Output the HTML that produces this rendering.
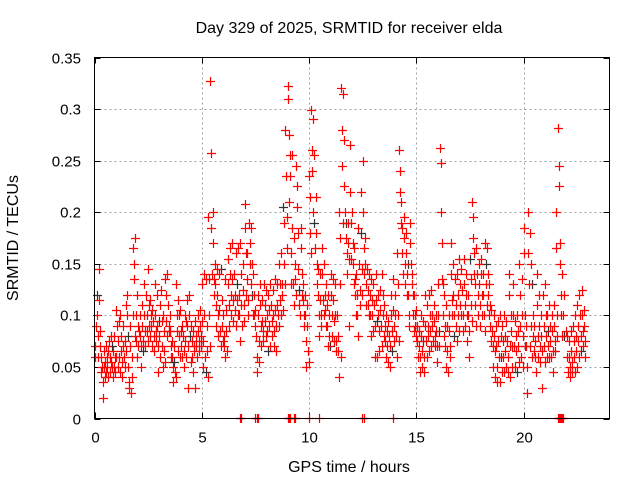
<!DOCTYPE html>
<html><head><meta charset="utf-8"><style>
html,body{margin:0;padding:0;background:#fff}
svg{display:block;font-family:"Liberation Sans",sans-serif}
</style></head><body>
<svg id="chart" width="640" height="480" viewBox="0 0 640 480" xmlns="http://www.w3.org/2000/svg">
<rect width="640" height="480" fill="#fff"/>
<text x="349" y="33" font-size="16" text-anchor="middle" fill="#000">Day 329 of 2025, SRMTID for receiver elda</text>
<text transform="translate(18,238) rotate(-90)" font-size="16" text-anchor="middle" fill="#000">SRMTID / TECUs</text>
<text x="349" y="472" font-size="16" text-anchor="middle" fill="#000">GPS time / hours</text>
<g id="grid"></g>
<g id="ticks"></g>
<g id="marks"></g>
<rect x="94.5" y="57.5" width="515" height="361" fill="none" stroke="#000" stroke-width="1"/>
</svg>
<script>
const xTicks=[0,5,10,15,20];
const yTicks=[0,0.05,0.1,0.15,0.2,0.25,0.3,0.35];
const yTickLabels=["0","0.05","0.1","0.15","0.2","0.25","0.3","0.35"];
const times=[];for(let i=0;i<229;i++)times.push(+(i*0.1).toFixed(1));
const values=[
[.07,.06,.09],[.12,.1,.08,.06],[.145,.115,.085,.07],[.06,.045,.05,.035],[.02,.05,.065,.04],[.055,.045,.07,.06],[.05,.065,.04,.075],[.06,.045,.08,.055],[.05,.07,.04,.065],[.08,.05,.06,.045],
[.105,.06,.09,.05],[.075,.095,.06,.045],[.1,.065,.08,.04],[.055,.07,.09,.06],[.075,.05,.065,.11],[.12,.1,.08,.05],[.035,.03,.07,.09],[.025,.04,.06,.1],[.165,.135,.15,.08],[.175,.1,.075,.06],
[.12,.09,.07,.085],[.1,.08,.07,.05],[.11,.09,.075,.065],[.13,.1,.085,.07],[.12,.1,.085,.075],[.145,.11,.09,.08],[.115,.1,.09,.07],[.105,.095,.08,.065],[.13,.1,.085,.075],[.12,.09,.07,.045],
[.095,.08,.06,.11],[.125,.095,.07,.05],[.1,.085,.065,.055],[.135,.12,.095,.08],[.14,.11,.09,.085],[.1,.085,.07,.06],[.075,.06,.05,.035],[.07,.055,.045,.04],[.13,.1,.085,.065],[.115,.1,.08,.06],
[.105,.085,.07,.06],[.09,.08,.065,.05],[.1,.075,.06,.095],[.115,.09,.07,.03],[.12,.1,.08,.055],[.09,.075,.06,.045],[.085,.07,.065,.03],[.095,.08,.07,.06],[.1,.085,.075,.065],[.105,.09,.08,.07],
[.13,.095,.075,.05],[.14,.1,.06,.045],[.135,.09,.065,.04],[.195,.135,.1,.07],[.327,.257,.185,.14],[.2,.17,.135,.12],[.15,.13,.11,.09],[.145,.12,.1,.08],[.14,.105,.085,.07],[.145,.115,.09,.075],
[.1,.08,.07,.06],[.135,.105,.085,.065],[.155,.13,.11,.09],[.165,.14,.12,.1],[.17,.135,.115,.095],[.14,.12,.105,.09],[.16,.13,.115,.1],[.165,.12,.1,.075],[.17,.14,.11,.09],[.15,.125,.11,.095],
[.208,.185,.16,.12],[.16,.135,.115,.1],[.19,.17,.15,.13],[.185,.15,.12,.1],[.14,.12,.1,.09],[.105,.08,.06,.045],[.12,.1,.075,.055],[.13,.11,.09,.07],[.115,.095,.085,.075],[.13,.11,.095,.08],
[.125,.1,.085,.065],[.12,.105,.09,.07],[.13,.11,.095,.08],[.125,.1,.085,.07],[.135,.105,.09,.065],[.13,.11,.1,.09],[.15,.13,.115,.1],[.16,.13,.12,.105],[.205,.19,.15,.13],[.28,.235,.195,.165],
[.322,.31,.275,.21],[.255,.235,.16,.13],[.255,.185,.13,.11],[.175,.15,.135,.12],[.245,.225,.205,.18],[.145,.125,.11,.1],[.185,.165,.14,.12],[.13,.115,.1,.09],[.12,.1,.075,.05],[.11,.09,.065,.055],
[.235,.215,.18,.16],[.299,.26,.24,.2],[.29,.255,.19,.165],[.215,.18,.15,.13],[.145,.12,.1,.08],[.14,.115,.1,.09],[.165,.14,.115,.1],[.15,.12,.105,.09],[.13,.11,.09,.07],[.12,.1,.08,.07],
[.14,.12,.1,.08],[.135,.115,.095,.075],[.13,.1,.075,.065],[.1,.08,.065,.04],[.2,.175,.13,.06],[.32,.28,.245,.19],[.315,.27,.225,.2],[.19,.175,.16,.14],[.19,.17,.155,.09],[.265,.22,.19,.155],
[.2,.17,.15,.13],[.165,.135,.12,.1],[.14,.12,.1,.08],[.185,.15,.125,.11],[.22,.18,.145,.12],[.25,.2,.165,.14],[.175,.15,.13,.11],[.145,.125,.11,.1],[.14,.12,.1,.08],[.135,.115,.1,.085],
[.13,.11,.09,.06],[.14,.115,.095,.06],[.12,.1,.085,.065],[.125,.105,.09,.07],[.14,.12,.1,.08],[.11,.09,.075,.06],[.1,.085,.07,.055],[.095,.08,.07,.05],[.12,.1,.085,.065],[.135,.105,.09,.075],
[.12,.1,.08,.06],[.16,.13,.1,.075],[.26,.24,.22,.19],[.21,.185,.16,.14],[.195,.175,.15,.13],[.18,.16,.14,.12],[.15,.12,.1,.09],[.19,.17,.15,.13],[.14,.12,.1,.085],[.12,.1,.09,.08],
[.105,.09,.075,.06],[.085,.07,.06,.045],[.1,.08,.065,.05],[.095,.075,.06,.045],[.12,.09,.075,.06],[.11,.09,.08,.065],[.12,.1,.085,.07],[.125,.1,.09,.075],[.11,.095,.08,.07],[.1,.085,.07,.055],
[.13,.1,.085,.07],[.262,.248,.2,.135],[.17,.13,.1,.08],[.12,.09,.07,.05],[.11,.09,.065,.045],[.1,.085,.07,.06],[.17,.14,.115,.1],[.15,.12,.1,.08],[.135,.11,.09,.075],[.14,.12,.1,.085],
[.155,.13,.11,.1],[.145,.125,.1,.085],[.155,.13,.11,.09],[.14,.12,.1,.075],[.12,.1,.085,.06],[.155,.135,.11,.095],[.21,.195,.175,.14],[.16,.13,.11,.09],[.165,.14,.12,.1],[.15,.13,.11,.09],
[.155,.14,.12,.1],[.14,.12,.1,.085],[.17,.15,.13,.11],[.165,.14,.12,.1],[.13,.11,.09,.075],[.105,.085,.07,.05],[.1,.08,.065,.04],[.09,.07,.05,.035],[.095,.075,.06,.035],[.1,.08,.06,.045],
[.09,.075,.06,.045],[.1,.08,.065,.05],[.095,.075,.06,.045],[.14,.12,.07,.04],[.1,.085,.07,.05],[.13,.1,.07,.05],[.095,.08,.065,.045],[.1,.085,.07,.055],[.15,.12,.09,.06],[.135,.1,.08,.05],
[.185,.16,.1,.07],[.09,.07,.05,.025],[.2,.16,.13,.07],[.18,.15,.09,.06],[.13,.1,.08,.065],[.09,.075,.06,.045],[.14,.11,.08,.06],[.12,.09,.07,.055],[.1,.08,.065,.03],[.12,.09,.07,.055],
[.13,.1,.08,.06],[.1,.085,.07,.06],[.11,.09,.075,.06],[.1,.085,.065,.045],[.11,.09,.075,.065],[.2,.165,.1,.08],[.282,.245,.225,.17],[.15,.12,.1,.08],[.14,.1,.08],[.12,.085],
[.08,.06,.045],[.075,.06,.05,.04],[.085,.065,.055,.045],[.09,.075,.06,.045],[.1,.08,.065,.05],[.11,.09,.075,.06],[.12,.1,.08,.065],[.125,.1,.085,.07],[.105,.09,.075,.06]
];
const zeroTimes=[6.8,6.85,7.5,7.55,7.6,9.0,9.05,9.1,9.3,9.35,10.0,10.45,12.45,12.55,13.9,21.6,21.65,21.7,21.75,21.8,21.85];

const X0=94.5,X1=609.5,Y0=418.5,Y1=57.5,XMAX=24,YMAX=0.35;
function xs(t){return X0+(t/XMAX)*(X1-X0);}
function ys(v){return Y0-(v/YMAX)*(Y0-Y1);}
const NS="http://www.w3.org/2000/svg";
const grid=document.getElementById('grid'),ticks=document.getElementById('ticks'),marks=document.getElementById('marks');
function line(p,x1,y1,x2,y2,st,dash){const l=document.createElementNS(NS,'line');l.setAttribute('x1',x1);l.setAttribute('y1',y1);l.setAttribute('x2',x2);l.setAttribute('y2',y2);l.setAttribute('stroke',st);if(dash)l.setAttribute('stroke-dasharray',dash);p.appendChild(l);return l;}
function txt(p,x,y,s,anchor){const t=document.createElementNS(NS,'text');t.setAttribute('x',x);t.setAttribute('y',y);t.setAttribute('font-size','15');t.setAttribute('text-anchor',anchor);t.textContent=s;p.appendChild(t);return t;}
xTicks.forEach((t,i)=>{const x=Math.round(xs(t))+0.5;
 if(i>0){const g=line(grid,x,Y1,x,Y0,'#a0a0a0','2,3');}
 line(ticks,x,Y0,x,Y0-6,'#000');line(ticks,x,Y1,x,Y1+6,'#000');
 const lb=txt(ticks,x,Y0+24,String(t),'middle');
 
 
});
yTicks.forEach((v,i)=>{const y=Math.round(ys(v))+0.5;
 if(i>0&&i<yTicks.length-1){const g=line(grid,X0,y,X1,y,'#a0a0a0','2,3');}
 line(ticks,X0,y,X0+6,y,'#000');line(ticks,X1,y,X1-6,y,'#000');
 const lb=txt(ticks,81,y+5,yTickLabels[i],'end');
 
 
});
function plus(x,y,col){const p=document.createElementNS(NS,'path');p.setAttribute('d',`M${x-4.5} ${y}H${x+4.5}M${x} ${y-4.5}V${y+4.5}`);p.setAttribute('stroke',col);p.setAttribute('stroke-width','1.2');p.setAttribute('fill','none');
 
 
 marks.appendChild(p);}
let k=0;const pts=[];
times.forEach((t,i)=>{const vs=values[i]||[];vs.forEach((v,j)=>{pts.push([t+0.1*j/vs.length,v,k++]);});});
pts.forEach(p=>{if(p[2]%29===3)plus(Math.round(xs(p[0]))+0.5,Math.round(ys(p[1]))+0.5,'#333');});
pts.forEach(p=>{if(p[2]%29!==3)plus(Math.round(xs(p[0]))+0.5,Math.round(ys(p[1]))+0.5,'#f00');});
zeroTimes.forEach(t=>plus(Math.round(xs(t))+0.5,Y0,'#f00'));
</script>
</body></html>
